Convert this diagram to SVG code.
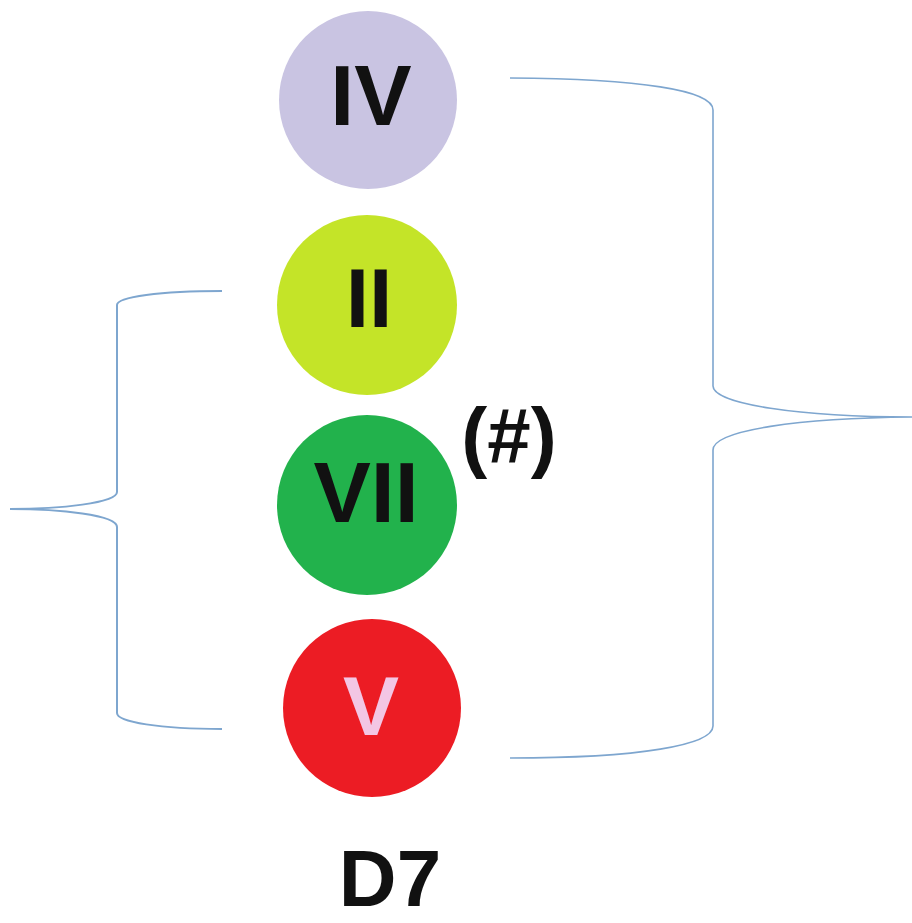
<svg xmlns="http://www.w3.org/2000/svg" width="912" height="923" viewBox="0 0 912 923">
<style>
.lbl{font-family:"Liberation Sans",Arial,sans-serif;font-weight:bold;text-anchor:middle;fill:#111}
.brace{fill:none;stroke:#7ea6cf;stroke-width:1.6}
</style>
<rect width="912" height="923" fill="#fff"/>
<g id="connectors">
<path class="brace" d="M510,78 C640,79 713,90 713,110 L713,386 C713,404 800,417 912,417 C800,418 713,430 713,450 L713,726 C713,745 640,758 510,758"/>
<path class="brace" style="stroke-width:2" d="M222,291 C160,291 117,297 117,305 L117,492 C117,503 60,509 10,509 C60,509 117,515 117,527 L117,713 C117,722 160,729 222,729"/>
</g>
<g id="node-IV">
<circle cx="368" cy="100" r="89" fill="#c9c4e2"/>
<text class="lbl" x="371" y="125" font-size="86">IV</text>
</g>
<g id="node-II">
<circle cx="367" cy="305" r="90" fill="#c4e428"/>
<text class="lbl" x="369" y="327" font-size="84">II</text>
</g>
<g id="node-VII">
<circle cx="367" cy="505" r="90" fill="#22b24c"/>
<text class="lbl" x="366" y="522" font-size="86">VII</text>
</g>
<g id="node-V">
<circle cx="372" cy="708" r="89" fill="#ec1c24"/>
<text class="lbl" x="371" y="735" font-size="84" style="fill:#f3c6e4">V</text>
</g>
<g id="label-sharp">
<text class="lbl" x="509" y="463" font-size="78">(#)</text>
</g>
<g id="label-D7">
<text class="lbl" x="390" y="906" font-size="80">D7</text>
</g>
</svg>
